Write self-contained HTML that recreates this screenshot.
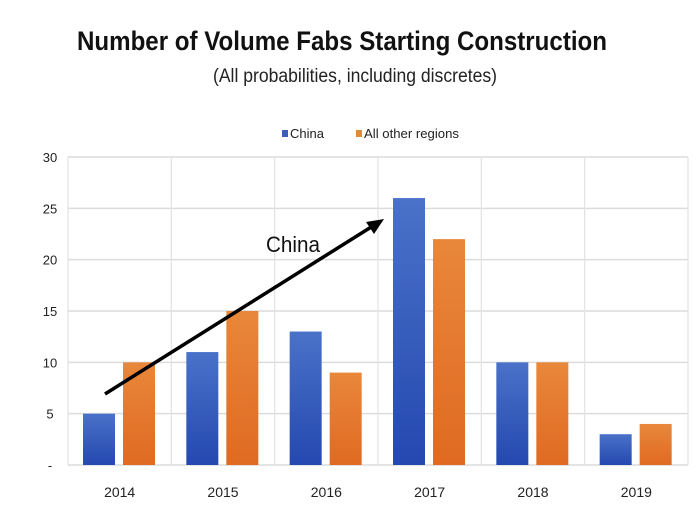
<!DOCTYPE html>
<html><head><meta charset="utf-8"><style>
html,body{margin:0;padding:0;background:#fff;}
svg{display:block;font-family:"Liberation Sans",sans-serif;}
</style></head><body>
<svg id="chart" width="700" height="517" viewBox="0 0 700 517">
<defs>
<linearGradient id="gb" x1="0" y1="0" x2="0" y2="1"><stop offset="0" stop-color="#4a72c8"/><stop offset="1" stop-color="#2448b0"/></linearGradient>
<linearGradient id="go" x1="0" y1="0" x2="0" y2="1"><stop offset="0" stop-color="#e8873a"/><stop offset="1" stop-color="#e06a22"/></linearGradient>
</defs>
<text x="342" y="50" text-anchor="middle" font-size="27" font-weight="bold" textLength="530" lengthAdjust="spacingAndGlyphs" fill="#111">Number of Volume Fabs Starting Construction</text>
<text x="355" y="82" text-anchor="middle" font-size="19" textLength="284" lengthAdjust="spacingAndGlyphs" fill="#222">(All probabilities, including discretes)</text>
<g>
<rect x="282" y="130" width="6" height="7" fill="#3a5fbf"/>
<text x="290" y="138" font-size="13" textLength="34" lengthAdjust="spacingAndGlyphs" fill="#222">China</text>
<rect x="356" y="130" width="6" height="7" fill="#e08a3a"/>
<text x="364" y="138" font-size="13" textLength="95" lengthAdjust="spacingAndGlyphs" fill="#222">All other regions</text>
</g>
<g id="grid"></g><g id="bars"></g><g id="labels"></g>
<g>
<line x1="105" y1="394" x2="376" y2="224" stroke="#000" stroke-width="3.5"/>
<polygon points="384,219 366,222 374,234" fill="#000"/>
</g>
<text x="266" y="252" font-size="22" textLength="54" lengthAdjust="spacingAndGlyphs" fill="#111">China</text>
</svg>
<script>
const categories=["2014","2015","2016","2017","2018","2019"];
const china=[5,11,13,26,10,3];
const others=[10,15,9,22,10,4];
const yTicks=[0,5,10,15,20,25,30];
const yTickLabels=["-","5","10","15","20","25","30"];
const NS="http://www.w3.org/2000/svg";
const L=68,R=688,T=157,B=465,yMax=30;
const bw=(R-L)/categories.length;
const y=v=>B-(v/yMax)*(B-T);
const xc=i=>L+i*bw;
function mk(tag,attrs,parent){const e=document.createElementNS(NS,tag);for(const k in attrs)e.setAttribute(k,attrs[k]);parent.appendChild(e);return e;}
const g=document.getElementById('grid'),bars=document.getElementById('bars'),lab=document.getElementById('labels');
yTicks.forEach((t,i)=>{
 const ln=mk('line',{x1:L,x2:R,y1:y(t),y2:y(t),stroke:'#dcdcdc','stroke-width':1.5},g);
 
 
 const tx=mk('text',{x:50,y:y(t)+5,'text-anchor':'middle','font-size':13,fill:'#222'},lab);
 tx.textContent=yTickLabels[i];
 
 
});
for(let i=0;i<=categories.length;i++){
 const ln=mk('line',{x1:xc(i),x2:xc(i),y1:T,y2:B,stroke:'#e2e2e2','stroke-width':1.2},g);
 
 
}
categories.forEach((c,i)=>{
 const x0=xc(i);
 const b1=mk('rect',{x:x0+15,y:y(china[i]),width:32,height:B-y(china[i]),fill:'url(#gb)'},bars);
 
 
 const b2=mk('rect',{x:x0+55,y:y(others[i]),width:32,height:B-y(others[i]),fill:'url(#go)'},bars);
 
 
 const tx=mk('text',{x:x0+bw/2,y:497,'text-anchor':'middle','font-size':14,fill:'#222'},lab);
 tx.textContent=c;
 
 
});
</script>
</body></html>
